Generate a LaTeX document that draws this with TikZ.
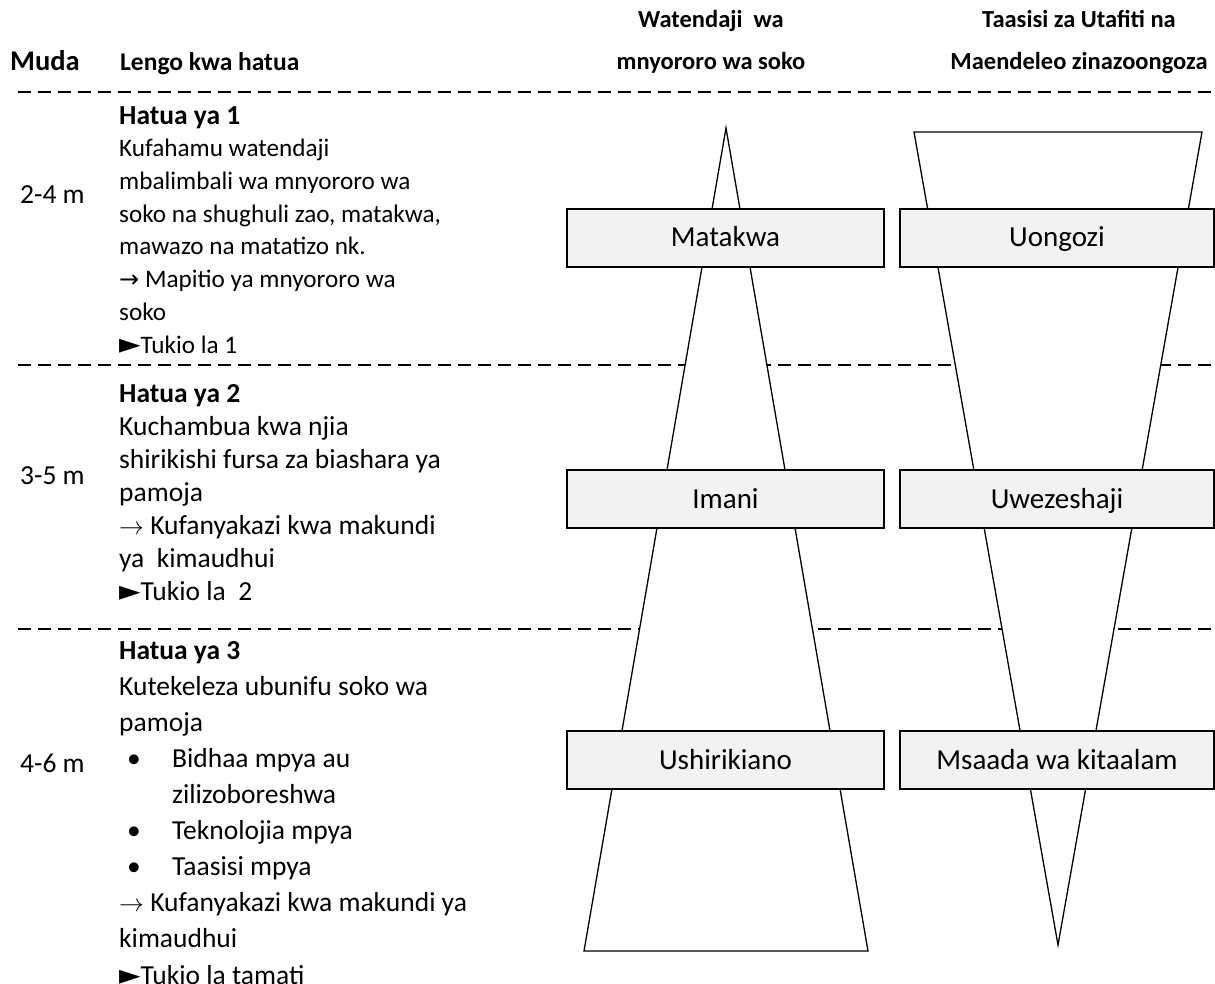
\documentclass[tikz,border=0pt]{standalone}
\usepackage{fontspec}
\setmainfont{Carlito}
\newfontfamily\symf{DejaVu Sans}
\definecolor{boxgray}{HTML}{F2F2F2}
\newcommand{\tri}{{\symf\fontsize{28}{20}\selectfont ►}}
\newcommand{\arr}{{\symf\fontsize{24}{20}\selectfont →}}
\begin{document}
\begin{tikzpicture}[x=1pt,y=-1pt,
  hdr/.style={font=\bfseries\fontsize{24.5}{42}\selectfont, align=center, inner sep=0},
  body/.style={font=\fontsize{27.5}{32.9}\selectfont, align=left, anchor=base west, inner sep=0},
  timel/.style={font=\fontsize{27.5}{30}\selectfont, anchor=west, inner sep=0},
  lbl/.style={draw, line width=1.4pt, fill=boxgray, minimum height=58, inner sep=0,
              text height=22pt, text depth=4pt, font=\fontsize{29}{32}\selectfont},
  sep/.style={dash pattern=on 12.5pt off 7.5pt, line width=1.5pt},
  shp/.style={line width=1.3pt}]
\useasboundingbox (0,0) rectangle (1215,984);

% header
\node[hdr, anchor=base west, font=\bfseries\fontsize{28.5}{30}\selectfont] (muda) at (10,71) {Muda};
\node[hdr, anchor=base west, font=\bfseries\fontsize{25.5}{30}\selectfont] (lengo) at (120,71) {Lengo kwa hatua};
\node[hdr, anchor=base] (colA) at (711,70) {Watendaji\ \ wa\\mnyororo wa soko};
\node[hdr, anchor=base] (colB) at (1079,70) {Taasisi za Utafiti na\\Maendeleo zinazoongoza};

% separators
\coordinate (s1l) at (18,92);  \coordinate (s1r) at (1215,92);
\coordinate (s2l) at (18,365); \coordinate (s2r) at (1215,365);
\coordinate (s3l) at (18,629); \coordinate (s3r) at (1215,629);
\draw[sep] (s1l) -- (s1r);
\draw[sep] (s2l) -- (s2r);
\draw[sep] (s3l) -- (s3r);

% time labels
\node[timel] (t1) at (20,195) {2-4 m};
\node[timel] (t2) at (20,476) {3-5 m};
\node[timel] (t3) at (20,763) {4-6 m};

% step texts (node base = baseline of last line)
\node[body, font=\fontsize{25.2}{32.7}\selectfont] (h1) at (119,353) {{\fontsize{27.5}{30}\selectfont\textbf{Hatua ya 1}}\\
Kufahamu watendaji\\
mbalimbali wa mnyororo wa\\
soko na shughuli zao, matakwa,\\
mawazo na matatizo nk.\\
\arr\ Mapitio ya mnyororo wa\\
soko\\
\tri Tukio la 1};

\node[body] (h2) at (119,600) {\textbf{Hatua ya 2}\\
Kuchambua kwa njia\\
shirikishi fursa za biashara ya\\
pamoja\\
$\rightarrow$ Kufanyakazi kwa makundi\\
ya\ \ kimaudhui\\
\tri Tukio la\ \ 2};

\node[body, font=\fontsize{27.5}{36.1}\selectfont] (h3) at (119,984) {\textbf{Hatua ya 3}\\
Kutekeleza ubunifu soko wa\\
pamoja\\
\makebox[53pt][l]{\hspace{8pt}•}Bidhaa mpya au\\
\hspace{53pt}zilizoboreshwa\\
\makebox[53pt][l]{\hspace{8pt}•}Teknolojia mpya\\
\makebox[53pt][l]{\hspace{8pt}•}Taasisi mpya\\
$\rightarrow$ Kufanyakazi kwa makundi ya\\
kimaudhui\\
\tri Tukio la tamati};

% pyramid shapes
\draw[shp, fill=white] (726,128) -- (584,951) -- (868,951) -- cycle;
\draw[shp, fill=white] (914,132) -- (1202,132) -- (1058,945) -- cycle;

% boxes
\node[lbl, minimum width=317] (matakwa) at (725.5,238) {Matakwa};
\node[lbl, minimum width=314] (uongozi) at (1057,238) {Uongozi};
\node[lbl, minimum width=317] (imani) at (725.5,499) {Imani};
\node[lbl, minimum width=314] (uwez) at (1057,499) {Uwezeshaji};
\node[lbl, minimum width=317] (ushir) at (725.5,760) {Ushirikiano};
\node[lbl, minimum width=314] (msaada) at (1057,760) {Msaada wa kitaalam};
\end{tikzpicture}
\end{document}
